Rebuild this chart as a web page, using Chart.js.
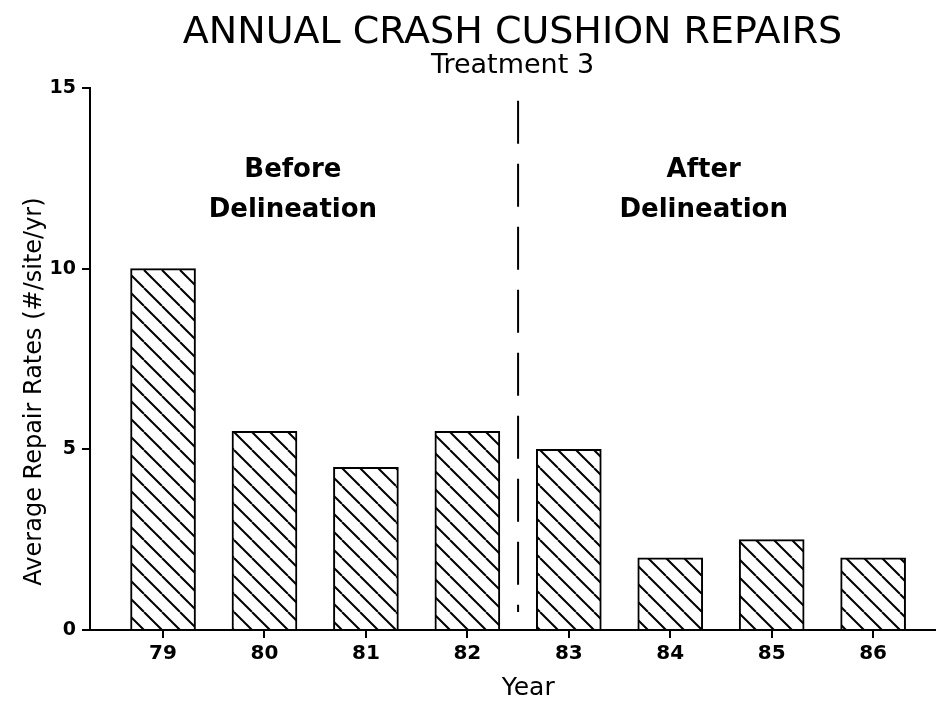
<!DOCTYPE html>
<html>
<head>
<meta charset="utf-8">
<script src="https://cdn.jsdelivr.net/npm/chart.js@4.4.1/dist/chart.umd.min.js"></script>
<style>
  html, body { margin: 0; padding: 0; background: #fff; }
  #wrap { width: 940px; height: 707px; position: relative; }
</style>
</head>
<body>
<div id="wrap"><canvas id="repairChart" width="940" height="707"></canvas></div>
<script>
const years = [79, 80, 81, 82, 83, 84, 85, 86];
const repairRates = [10, 5.5, 4.5, 5.5, 5, 2, 2.5, 2];
const yTicks = [0, 5, 10, 15];
const dividerYear = 82.5;
const phaseLabels = [
  { x: 80.28, lines: ['Before', 'Delineation'] },
  { x: 84.33, lines: ['After', 'Delineation'] }
];
const yTitle = 'Average Repair Rates (#/site/yr)';
const xTitle = 'Year';

const FONT = '"DejaVu Sans", "Liberation Sans", sans-serif';

function makeHatch() {
  const s = 18;
  const c = document.createElement('canvas');
  c.width = s;
  c.height = s;
  const g = c.getContext('2d');
  g.fillStyle = '#fff';
  g.fillRect(0, 0, s, s);
  g.strokeStyle = '#000';
  g.lineWidth = 2;
  for (let k = -1; k <= 1; k++) {
    g.beginPath();
    g.moveTo(k * s, 0);
    g.lineTo(k * s + s, s);
    g.stroke();
  }
  return g.createPattern(c, 'repeat');
}

// dashed divider, phase labels and axis titles
const annotations = {
  id: 'annotations',
  afterDatasetsDraw(chart) {
    const { ctx, scales: { x, y } } = chart;
    const px = x.getPixelForValue(dividerYear);
    ctx.save();
    ctx.strokeStyle = '#000';
    ctx.lineWidth = 2;
    ctx.setLineDash([43, 20]);
    ctx.beginPath();
    ctx.moveTo(px, y.getPixelForValue(14.65));
    ctx.lineTo(px, y.getPixelForValue(0.5));
    ctx.stroke();
    ctx.setLineDash([]);

    ctx.fillStyle = '#000';
    ctx.textAlign = 'center';
    ctx.textBaseline = 'middle';
    ctx.font = 'bold 26px ' + FONT;
    phaseLabels.forEach(p => {
      const lx = x.getPixelForValue(p.x);
      ctx.fillText(p.lines[0], lx, y.getPixelForValue(12.72));
      ctx.fillText(p.lines[1], lx, y.getPixelForValue(11.62));
    });

    ctx.font = '25px ' + FONT;
    ctx.fillText(xTitle, x.getPixelForValue(82.6), 688);

    ctx.font = '24px ' + FONT;
    ctx.translate(35, y.getPixelForValue(6.6));
    ctx.rotate(-Math.PI / 2);
    ctx.fillText(yTitle, 0, 0);
    ctx.restore();
  }
};

const ctx = document.getElementById('repairChart').getContext('2d');
new Chart(ctx, {
  type: 'bar',
  data: {
    datasets: [{
      data: years.map((yr, i) => ({ x: yr, y: repairRates[i] })),
      backgroundColor: makeHatch(),
      borderColor: '#000',
      borderWidth: 2,
      borderSkipped: 'bottom',
      barThickness: 65
    }]
  },
  options: {
    responsive: false,
    animation: false,
    layout: { padding: { top: 0, right: 5, left: 0, bottom: 0 } },
    plugins: {
      legend: { display: false },
      tooltip: { enabled: false },
      title: {
        display: true,
        fullSize: false,
        text: 'ANNUAL CRASH CUSHION REPAIRS',
        color: '#000',
        font: { family: FONT, size: 38, weight: 'normal', lineHeight: 1.0 },
        padding: { top: 14, bottom: 0 }
      },
      subtitle: {
        display: true,
        fullSize: false,
        text: 'Treatment 3',
        color: '#000',
        font: { family: FONT, size: 27, weight: 'normal', lineHeight: 1.0 },
        padding: { top: 0, bottom: 9 }
      }
    },
    scales: {
      x: {
        type: 'linear',
        offset: false,
        min: 78.28,
        max: 86.61,
        afterBuildTicks: scale => { scale.ticks = years.map(v => ({ value: v })); },
        afterFit: scale => { scale.height = 77; },
        border: { display: true, color: '#000', width: 2 },
        grid: { offset: false, drawOnChartArea: false, drawTicks: true, tickLength: 8, color: '#000', lineWidth: 2 },
        ticks: { color: '#000', font: { family: FONT, size: 20, weight: 'bold' }, padding: 4 }
      },
      y: {
        min: 0,
        max: 15,
        afterBuildTicks: scale => { scale.ticks = yTicks.map(v => ({ value: v })); },
        afterFit: scale => { scale.width = 90; },
        border: { display: true, color: '#000', width: 2 },
        grid: { drawOnChartArea: false, drawTicks: true, tickLength: 8, color: '#000', lineWidth: 2 },
        ticks: { color: '#000', font: { family: FONT, size: 19, weight: 'bold' }, padding: 6 }
      }
    }
  },
  plugins: [annotations]
});
</script>
</body>
</html>
